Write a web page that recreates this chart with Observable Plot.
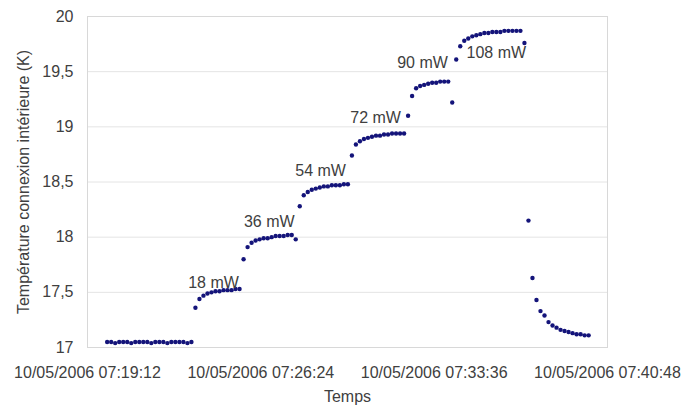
<!DOCTYPE html>
<html>
<head>
<meta charset="utf-8">
<script src="https://cdn.jsdelivr.net/npm/d3@7"></script>
<script src="https://cdn.jsdelivr.net/npm/@observablehq/plot@0.6"></script>
<style>
  html, body { margin: 0; padding: 0; background: #fff; }
  #chart svg { display: block; }
</style>
</head>
<body>
<div id="chart"></div>
<script>
// Sampling: first sample time and sampling interval (seconds)
const startTime = "2006-05-10T07:20:01Z";
const stepSeconds = 10;

// Measured temperatures (K), one per sample
const temperatures = [
  // baseline
  17.05, 17.05, 17.04, 17.05, 17.05, 17.05, 17.04, 17.05, 17.05, 17.05, 17.05,
  17.04, 17.05, 17.05, 17.05, 17.04, 17.05, 17.05, 17.05, 17.05, 17.04, 17.05,
  // 18 mW
  17.36, 17.44, 17.47, 17.49, 17.50, 17.51, 17.51, 17.52, 17.52, 17.52, 17.53, 17.53,
  // 36 mW
  17.80, 17.91, 17.95, 17.97, 17.98, 17.99, 17.99, 18.00, 18.01, 18.01, 18.01, 18.02, 18.02, 17.98,
  // 54 mW
  18.28, 18.38, 18.41, 18.43, 18.44, 18.45, 18.46, 18.46, 18.47, 18.47, 18.47, 18.48, 18.48,
  // 72 mW
  18.74, 18.84, 18.87, 18.89, 18.90, 18.91, 18.92, 18.92, 18.93, 18.93, 18.94, 18.94, 18.94, 18.94,
  // 90 mW
  19.10, 19.28, 19.35, 19.37, 19.38, 19.39, 19.40, 19.40, 19.41, 19.41, 19.41, 19.22,
  // 108 mW
  19.61, 19.73, 19.78, 19.80, 19.82, 19.83, 19.84, 19.85, 19.85, 19.86, 19.86, 19.86,
  19.87, 19.87, 19.87, 19.87, 19.87, 19.76,
  // heater off
  18.15, 17.63, 17.43, 17.33, 17.29, 17.23, 17.20, 17.18, 17.16, 17.15, 17.14, 17.13,
  17.12, 17.12, 17.11, 17.11
];

// Power annotations
const powerLabels = ["18 mW", "36 mW", "54 mW", "72 mW", "90 mW", "108 mW"];
const powerLabelTimes = ["2006-05-10T07:24:26Z", "2006-05-10T07:26:45Z", "2006-05-10T07:28:53Z",
                         "2006-05-10T07:31:10Z", "2006-05-10T07:33:07Z", "2006-05-10T07:36:11Z"];
const powerLabelTemps = [17.59, 18.14, 18.60, 19.08, 19.58, 19.67];

// Axis ticks
const xTicks = ["2006-05-10T07:19:12Z", "2006-05-10T07:26:24Z", "2006-05-10T07:33:36Z", "2006-05-10T07:40:48Z"];
const yTicks = [17, 17.5, 18, 18.5, 19, 19.5, 20];

const t0 = new Date(startTime).getTime();
const data = temperatures.map((v, i) => ({time: new Date(t0 + i * stepSeconds * 1000), temp: v}));
const labels = powerLabels.map((s, i) => ({text: s, time: new Date(powerLabelTimes[i]), temp: powerLabelTemps[i]}));
const xTickDates = xTicks.map(d => new Date(d));

const fmtTime = d3.utcFormat("%d/%m/%Y %H:%M:%S");
const fmtNum = v => String(v).replace(".", ",");

const chart = Plot.plot({
  width: 684,
  height: 408,
  marginLeft: 87,
  marginRight: 77,
  marginTop: 16,
  marginBottom: 61,
  style: {fontFamily: "'Liberation Sans', Arial, sans-serif", fontSize: "16px", color: "#404040", background: "#fff"},
  x: {type: "utc", domain: [xTickDates[0], xTickDates[3]]},
  y: {domain: [17, 20]},
  marks: [
    Plot.gridY(yTicks, {stroke: "#e4e4e4", strokeOpacity: 1}),
    Plot.frame({stroke: "#d8d8d8"}),
    Plot.axisX({ticks: xTickDates, tickFormat: fmtTime, tickSize: 0, tickPadding: 19,
      label: "Temps", labelAnchor: "center", labelArrow: "none", labelOffset: 54, fill: "#404040"}),
    Plot.axisY({ticks: yTicks, tickFormat: fmtNum, tickSize: 0, tickPadding: 14,
      label: "Température connexion intérieure (K)", labelAnchor: "center", labelArrow: "none", labelOffset: 70, fill: "#404040"}),
    Plot.dot(data, {x: "time", y: "temp", symbol: "circle", r: 2.2, fill: "#14147a", stroke: "none"}),
    Plot.text(labels, {x: "time", y: "temp", text: "text", fill: "#404040", fontSize: 16, textAnchor: "middle"})
  ]
});
document.getElementById("chart").appendChild(chart);
</script>
</body>
</html>
